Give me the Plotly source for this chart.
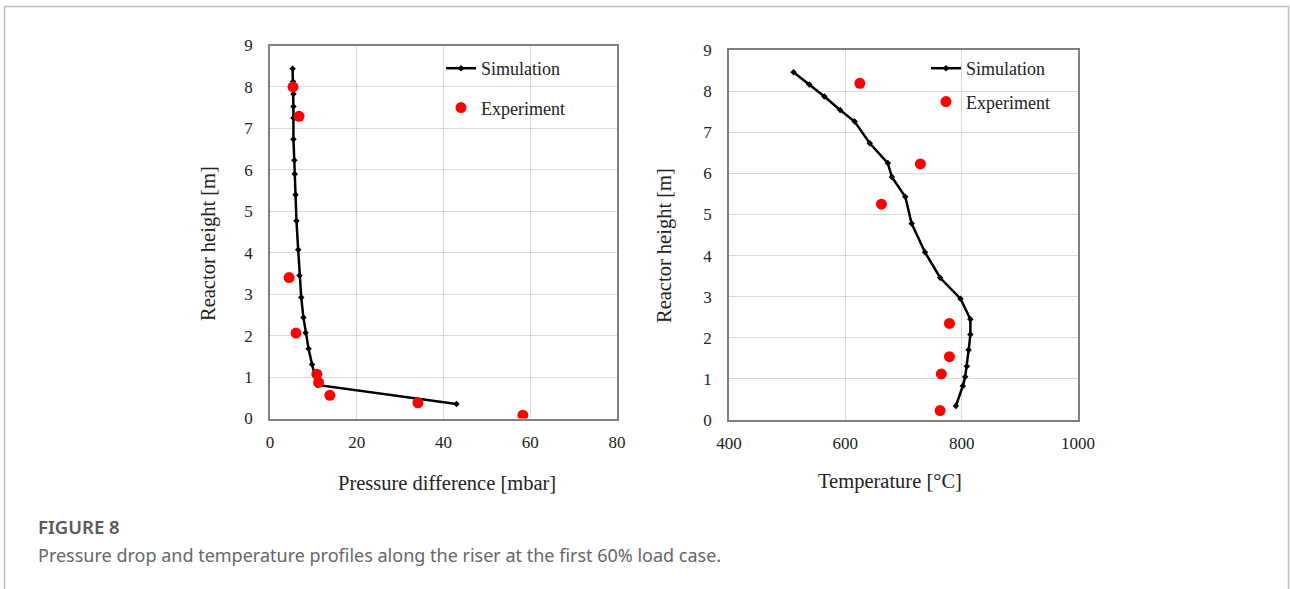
import plotly.graph_objects as go

# ---- data ----
sim_dp = [5.2, 5.3, 5.4, 5.4, 5.4, 5.4, 5.6, 5.7, 5.9, 6.1, 6.5, 6.8, 7.2, 7.7, 8.2, 8.9, 9.7, 10.9, 43.0]
sim_dp_h = [8.44, 8.13, 7.83, 7.53, 7.25, 6.74, 6.23, 5.90, 5.40, 4.77, 4.07, 3.45, 2.92, 2.44, 2.07, 1.68, 1.30, 0.81, 0.35]
exp_dp = [5.3, 6.7, 4.4, 6.0, 10.8, 11.2, 13.8, 34.1, 58.3]
exp_dp_h = [8.00, 7.29, 3.40, 2.06, 1.07, 0.87, 0.56, 0.38, 0.08]

sim_T = [511, 538, 564, 591, 616, 642, 673, 680, 703, 714, 737, 763, 798, 815, 815, 812, 809, 806, 802, 790]
sim_T_h = [8.46, 8.16, 7.87, 7.54, 7.26, 6.73, 6.25, 5.91, 5.43, 4.78, 4.08, 3.46, 2.95, 2.45, 2.08, 1.70, 1.31, 1.05, 0.83, 0.34]
exp_T = [625, 729, 662, 779, 779, 765, 763]
exp_T_h = [8.19, 6.23, 5.25, 2.35, 1.54, 1.12, 0.23]

dp_ticks = [0, 20, 40, 60, 80]
T_ticks = [400, 600, 800, 1000]
h_ticks = list(range(0, 10))

W, H = 1290, 589
SERIF = "Liberation Serif"

fig = go.Figure()

line_style = dict(color="black", width=2.5)
sim_marker = dict(symbol="diamond", size=5, color="black")
exp_marker = dict(symbol="circle", size=11, color="#ff0000")

fig.add_trace(go.Scatter(x=sim_dp, y=sim_dp_h, mode="lines+markers", name="Simulation",
                         line=line_style, marker=sim_marker, xaxis="x", yaxis="y",
                         legend="legend", legendgroup="a"))
fig.add_trace(go.Scatter(x=exp_dp, y=exp_dp_h, mode="markers", name="Experiment",
                         marker=exp_marker, xaxis="x", yaxis="y",
                         legend="legend", legendgroup="b"))
fig.add_trace(go.Scatter(x=sim_T, y=sim_T_h, mode="lines+markers", name="Simulation",
                         line=line_style, marker=sim_marker, xaxis="x2", yaxis="y2",
                         legend="legend2", legendgroup="c"))
fig.add_trace(go.Scatter(x=exp_T, y=exp_T_h, mode="markers", name="Experiment",
                         marker=exp_marker, xaxis="x2", yaxis="y2",
                         legend="legend2", legendgroup="d"))

def px_x(p):
    return p / W

def px_y(p):
    return 1 - p / H

axis_common = dict(
    showgrid=True, gridcolor="#d9d9d9", gridwidth=1,
    showline=True, linecolor="#808080", linewidth=1.5, mirror=True,
    zeroline=False, ticks="", automargin=False,
    tickfont=dict(family=SERIF, size=17, color="#222"),
)

fig.update_layout(
    width=W, height=H,
    margin=dict(l=0, r=0, t=0, b=0, autoexpand=False),
    paper_bgcolor="white", plot_bgcolor="white",
    xaxis=dict(domain=[px_x(270), px_x(617)], range=[0, 80], tickvals=dp_ticks,
               anchor="y", ticklabelstandoff=7, **axis_common),
    yaxis=dict(domain=[px_y(418.5), px_y(45.5)], range=[0, 9], tickvals=h_ticks,
               anchor="x", ticklabelstandoff=12, **axis_common),
    xaxis2=dict(domain=[px_x(729), px_x(1078)], range=[400, 1000], tickvals=T_ticks,
                anchor="y2", ticklabelstandoff=7, **axis_common),
    yaxis2=dict(domain=[px_y(420), px_y(50)], range=[0, 9], tickvals=h_ticks,
                anchor="x2", ticklabelstandoff=12, **axis_common),
    legend=dict(x=px_x(441), y=px_y(50), xanchor="left", yanchor="top",
                bgcolor="rgba(0,0,0,0)", font=dict(family=SERIF, size=18, color="#222"),
                traceorder="grouped", tracegroupgap=13, itemwidth=30),
    legend2=dict(x=px_x(926), y=px_y(50), xanchor="left", yanchor="top",
                 bgcolor="rgba(0,0,0,0)", font=dict(family=SERIF, size=18, color="#222"),
                 traceorder="grouped", tracegroupgap=7, itemwidth=30),
    showlegend=True,
)

annots = [
    dict(text="Pressure difference [mbar]", x=px_x(447), y=px_y(483)),
    dict(text="Temperature [°C]", x=px_x(890), y=px_y(481)),
]
for a in annots:
    fig.add_annotation(text=a["text"], x=a["x"], y=a["y"], xref="paper", yref="paper",
                       showarrow=False, xanchor="center", yanchor="middle",
                       font=dict(family=SERIF, size=20.5, color="#222"))
for xx, yy in ((208, 244), (665, 246)):
    fig.add_annotation(text="Reactor height [m]", x=px_x(xx), y=px_y(yy), xref="paper", yref="paper",
                       showarrow=False, xanchor="center", yanchor="middle", textangle=-90,
                       font=dict(family=SERIF, size=20.5, color="#222"))

fig.add_annotation(text="FIGURE 8", x=px_x(36), y=px_y(526), xref="paper", yref="paper",
                   showarrow=False, xanchor="left", yanchor="middle",
                   font=dict(family="Noto Sans", size=18.5, color="#595959", weight=600))
fig.add_annotation(text="Pressure drop and temperature profiles along the riser at the first 60% load case.",
                   x=px_x(36), y=px_y(555), xref="paper", yref="paper",
                   showarrow=False, xanchor="left", yanchor="middle",
                   font=dict(family="Noto Sans", size=18, color="#666666"))

# card frame (bottom edge runs past the page)
fig.add_shape(type="rect", xref="paper", yref="paper",
              x0=px_x(4.5), x1=px_x(1288.5), y0=-0.02, y1=px_y(6.5),
              line=dict(color="#bdbdbd", width=1.5), fillcolor="rgba(0,0,0,0)", layer="below")

fig.write_html("out.html")
